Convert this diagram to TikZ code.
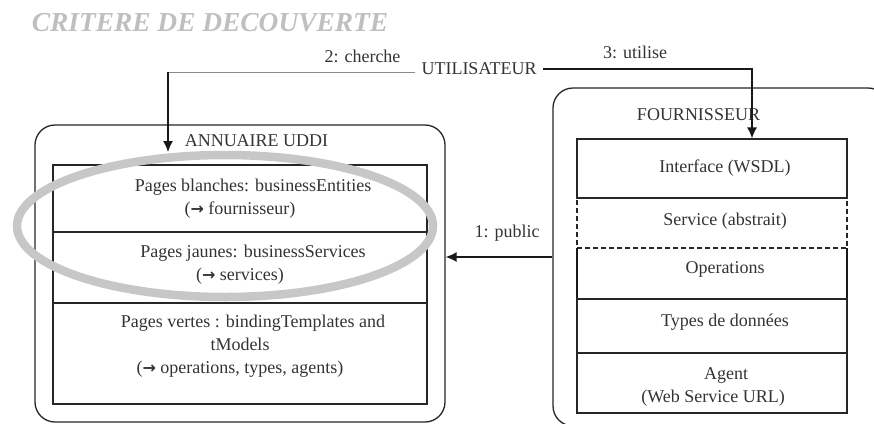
\documentclass[tikz,border=0pt]{standalone}
\usepackage{fontspec}
\setmainfont{Liberation Serif}
\newfontfamily\arrowfont{DejaVu Sans}
\newcommand{\rarr}{{\arrowfont\bfseries\fontsize{16}{23}\selectfont →}}
\usetikzlibrary{arrows.meta,shapes.geometric}
\begin{document}
\begin{tikzpicture}[x=1pt,y=-1pt,
  txt/.style={font=\fontsize{18}{23}\selectfont, text=black!80, inner sep=0pt, align=center},
  outerbox/.style={draw=black!85, line width=1.3pt, rounded corners=20pt, inner sep=0pt},
  cellbox/.style={draw=black!85, line width=1.2pt, inner sep=0pt},
  barebox/.style={inner sep=0pt, outer sep=0pt},
  tiparrow/.style={-{Latex[length=11pt,width=10pt]}, line width=1.3pt, draw=black!90},
  thinline/.style={draw=black!45, line width=0.7pt},
  ring/.style={ellipse, draw=black!22, line width=8.5pt, inner sep=0pt}
]
\useasboundingbox (0,0) rectangle (874,423);
\clip (0,0) rectangle (874,423);

% title
\node[font=\fontsize{27.4}{30}\selectfont\bfseries\itshape, text=black!25, inner sep=0pt] (title) at (210,23) {CRITERE DE DECOUVERTE};

% annuaire
\node[outerbox, minimum width=410pt, minimum height=297pt] (annu) at (240,273.5) {};
\node[cellbox, minimum width=374pt, minimum height=67pt] (blanc) at (240,198.5) {};
\node[cellbox, minimum width=374pt, minimum height=71pt] (jaune) at (240,267.5) {};
\node[cellbox, minimum width=374pt, minimum height=101pt] (vert) at (240,353.5) {};
\node[txt] (annulbl) at (256.5,141) {ANNUAIRE UDDI};
\node[txt] (tblanc) at (240,199) {\hspace*{26pt}Pages blanches: businessEntities\\(\rarr{} fournisseur)};
\node[txt] (tjaune) at (240,264.5) {\hspace*{26pt}Pages jaunes: businessServices\\(\rarr{} services)};
\node[txt] (tvert) at (240,346) {\hspace*{26pt}Pages vertes : bindingTemplates and\\tModels\\(\rarr{} operations, types, agents)};

% fournisseur
\node[outerbox, minimum width=335pt, minimum height=338pt] (fourn) at (720.5,257) {};
\node[txt] (fournlbl) at (698.5,115) {FOURNISSEUR};
\node[cellbox, minimum width=270pt, minimum height=59pt] (iface) at (712,168.5) {};
\node[cellbox, dash pattern=on 5pt off 3pt, minimum width=270pt, minimum height=50pt] (serv) at (712,223) {};
\node[barebox, minimum width=270pt, minimum height=51pt] (ops) at (712,273.5) {};
\draw[line width=1.3pt, black!90] (ops.north west) -- (ops.south west) -- (ops.south east) -- (ops.north east);
\node[cellbox, minimum width=270pt, minimum height=54pt] (types) at (712,326) {};
\node[cellbox, minimum width=270pt, minimum height=60pt] (agent) at (712,383) {};
\node[txt] (tiface) at (725,168) {Interface (WSDL)};
\node[txt] (tserv) at (725,221) {Service (abstrait)};
\node[txt] (tops) at (725,269) {Operations};
\node[txt] (ttypes) at (725,322) {Types de données};
\node[txt] (tagent) at (713,386.5) {\hspace*{26pt}Agent\\(Web Service URL)};

% highlight ring
\node[ring, minimum width=416pt, minimum height=142pt] (oval) at (225,226) {};

% user and connectors
\node[txt, inner xsep=6pt] (user) at (479,69) {UTILISATEUR};
\node[txt] (lblsearch) at (362.5,56) {2: cherche};
\node[txt] (lbluse) at (635,52) {3: utilise};
\node[txt] (lblpub) at (507,233) {1: public};

\coordinate (bend) at (168,72);
\coordinate (srch) at (168,152);
\draw[thinline] (user.west |- bend) -- (bend);
\draw[tiparrow] (bend) -- (srch);
\draw[tiparrow] (user.east) -| ([xshift=40pt]iface.north);
\draw[tiparrow] (fourn.west) -- (fourn.west -| annu.east);
\end{tikzpicture}
\end{document}
